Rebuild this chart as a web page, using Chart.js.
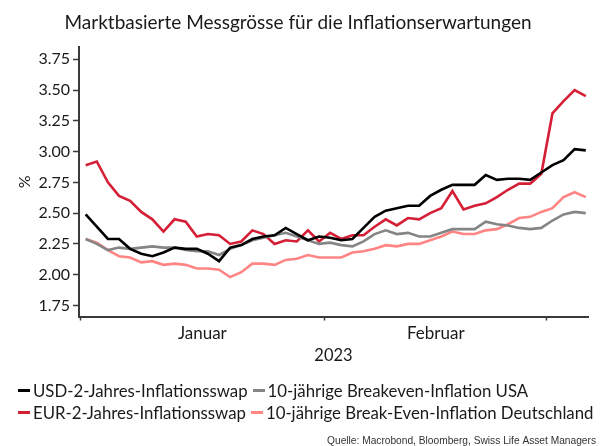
<!DOCTYPE html>
<html><head><meta charset="utf-8">
<script src="https://cdn.jsdelivr.net/npm/chart.js@4/dist/chart.umd.min.js"></script>
<style>
html,body{margin:0;padding:0;background:#fff;}
#wrap{position:relative;width:603px;height:446px;overflow:hidden;}
#legend{position:absolute;left:18px;top:379.5px;font-family:Lato,sans-serif;font-size:16.8px;color:#1a1a1a;line-height:22.3px;}
.row{white-space:nowrap;height:22.3px;display:flex;align-items:center;}
.item{display:inline-flex;align-items:center;margin-right:5px;white-space:nowrap;}
.mk{display:inline-block;width:12px;height:3px;margin-right:3px;}
</style></head><body>
<div id="wrap"><canvas id="c" width="603" height="446"></canvas><div id="legend"></div></div>
<script>
const chartTitle = 'Marktbasierte Messgrösse für die Inflationserwartungen';
const sourceText = 'Quelle: Macrobond, Bloomberg, Swiss Life Asset Managers';
const yearLabel = '2023';
const yAxisLabel = '%';
const monthNames = ['Januar', 'Februar', 'März'];
const yTicks = [1.75, 2.00, 2.25, 2.50, 2.75, 3.00, 3.25, 3.50, 3.75];

const dates = [
  '2023-01-02','2023-01-03','2023-01-04','2023-01-05','2023-01-06',
  '2023-01-09','2023-01-10','2023-01-11','2023-01-12','2023-01-13',
  '2023-01-16','2023-01-17','2023-01-18','2023-01-19','2023-01-20',
  '2023-01-23','2023-01-24','2023-01-25','2023-01-26','2023-01-27',
  '2023-01-30','2023-01-31',
  '2023-02-01','2023-02-02','2023-02-03',
  '2023-02-06','2023-02-07','2023-02-08','2023-02-09','2023-02-10',
  '2023-02-13','2023-02-14','2023-02-15','2023-02-16','2023-02-17',
  '2023-02-20','2023-02-21','2023-02-22','2023-02-23','2023-02-24',
  '2023-02-27','2023-02-28',
  '2023-03-01','2023-03-02','2023-03-03','2023-03-06'
];

const usdSwap2y = [2.49,2.39,2.29,2.29,2.21,2.17,2.15,2.18,2.22,2.21,2.21,2.17,2.11,2.22,2.24,2.29,2.31,2.32,2.38,2.33,2.28,2.31,
  2.30,2.28,2.29,2.38,2.47,2.52,2.54,2.56,2.56,2.64,2.69,2.73,2.73,2.73,2.81,2.77,2.78,2.78,2.77,2.83,
  2.89,2.93,3.02,3.01];
const usBreakeven10y = [2.29,2.25,2.20,2.22,2.21,2.22,2.23,2.22,2.22,2.20,2.19,2.19,2.16,2.21,2.24,2.28,2.30,2.32,2.34,2.31,2.28,2.25,
  2.26,2.24,2.23,2.27,2.33,2.36,2.33,2.34,2.31,2.31,2.34,2.37,2.37,2.37,2.43,2.41,2.40,2.38,2.37,2.38,
  2.44,2.49,2.51,2.50];
const eurSwap2y = [2.89,2.92,2.75,2.64,2.60,2.51,2.45,2.35,2.45,2.43,2.31,2.33,2.32,2.25,2.27,2.36,2.33,2.25,2.28,2.27,2.36,2.27,
  2.34,2.29,2.32,2.32,2.39,2.45,2.40,2.46,2.45,2.50,2.54,2.68,2.53,2.56,2.58,2.63,2.69,2.74,2.74,2.82,
  3.31,3.41,3.50,3.45];
const deBreakeven10y = [2.29,2.26,2.20,2.15,2.14,2.10,2.11,2.08,2.09,2.08,2.05,2.05,2.04,1.98,2.02,2.09,2.09,2.08,2.12,2.13,2.16,2.14,
  2.14,2.14,2.18,2.19,2.21,2.24,2.23,2.25,2.25,2.28,2.31,2.35,2.33,2.33,2.36,2.37,2.41,2.46,2.47,2.51,
  2.54,2.63,2.67,2.63];

const seriesNames = ['USD-2-Jahres-Inflationsswap', '10-jährige Breakeven-Inflation USA',
  'EUR-2-Jahres-Inflationsswap', '10-jährige Break-Even-Inflation Deutschland'];
const seriesValues = [usdSwap2y, usBreakeven10y, eurSwap2y, deBreakeven10y];
const seriesColors = ['#000000', '#858585', '#d51f37', '#ff8585'];

// month boundaries (business-day index) derived from the dates
const monthOf = d => +d.slice(5, 7);
const boundaries = [];
dates.forEach((d, i) => { if (i === 0 || monthOf(d) !== monthOf(dates[i - 1])) boundaries.push(i - 0.5); });
const monthLabelPos = [];
const monthLabelText = [];
for (let k = 0; k < boundaries.length - 1; k++) {
  monthLabelPos.push((boundaries[k] + boundaries[k + 1]) / 2);
  monthLabelText.push(monthNames[monthOf(dates[boundaries[k] + 0.5]) - 1]);
}

const font = 'Lato, "Open Sans", sans-serif';
const axisColor = '#3a3a3a';
const textColor = '#1a1a1a';

const datasets = seriesNames.map((name, s) => ({
  label: name,
  data: seriesValues[s].map((v, i) => ({ x: i, y: v })),
  borderColor: seriesColors[s],
  backgroundColor: seriesColors[s],
  borderWidth: 2.6,
  pointRadius: 0,
  tension: 0,
  fill: false,
  borderJoinStyle: 'miter',
  yAxisID: 'y'
}));

new Chart(document.getElementById('c'), {
  type: 'line',
  data: { datasets },
  options: {
    responsive: false,
    animation: false,
    devicePixelRatio: 1,
    layout: { padding: { left: 0, right: 7, top: 0, bottom: 0 } },
    plugins: {
      legend: { display: false },
      tooltip: { enabled: false },
      title: {
        display: true, text: chartTitle, color: textColor,
        font: { family: font, size: 19, weight: 'normal', lineHeight: 1.2 },
        padding: { top: 11, bottom: 13.2 }
      },
      subtitle: {
        display: true, position: 'bottom', align: 'end', text: sourceText, color: '#333',
        font: { family: '"Liberation Sans", Arial, sans-serif', size: 10.2, lineHeight: 0.88 },
        padding: { top: 66.5, bottom: 0 }
      }
    },
    scales: {
      x: {
        type: 'linear',
        min: -0.6,
        max: dates.length - 1 + 0.2,
        border: { color: axisColor, width: 2 },
        grid: {
          drawOnChartArea: false, tickLength: 4, tickWidth: 1.5,
          tickColor: c => (c.tick && monthLabelPos.includes(c.tick.value)) ? 'rgba(0,0,0,0)' : axisColor
        },
        afterBuildTicks: s => {
          s.ticks = boundaries.concat(monthLabelPos).sort((a, b) => a - b).map(v => ({ value: v }));
        },
        ticks: {
          autoSkip: false, maxRotation: 0, padding: 3, color: textColor,
          font: { family: font, size: 17 },
          callback: v => { const k = monthLabelPos.indexOf(v); return k >= 0 ? monthLabelText[k] : ''; }
        },
        title: {
          display: true, text: yearLabel, color: textColor,
          font: { family: font, size: 16.5 }, padding: { top: 4, bottom: 5 }
        },
        afterFit: s => { s.height = 54; }
      },
      y: {
        type: 'linear',
        position: 'left',
        min: 1.66,
        max: 3.85,
        border: { color: axisColor, width: 2 },
        grid: { drawOnChartArea: false, tickLength: 6, tickWidth: 1.5, tickColor: axisColor },
        afterBuildTicks: s => { s.ticks = yTicks.map(v => ({ value: v })); },
        ticks: {
          padding: 3, color: textColor,
          font: { family: font, size: 16 },
          callback: v => v.toFixed(2)
        },
        title: {
          display: true, text: yAxisLabel, color: textColor,
          font: { family: font, size: 16 }, padding: { top: 15, bottom: 0 }
        },
        afterFit: s => { s.width = 79; }
      },
      gap: {
        type: 'linear',
        position: 'right',
        display: true,
        grid: { display: false },
        border: { display: false },
        ticks: { display: false },
        afterFit: s => { s.width = 8; }
      }
    }
  }
});

// HTML legend built from the series arrays (two items per row)
const legend = document.getElementById('legend');
for (let r = 0; r < seriesNames.length; r += 2) {
  const row = document.createElement('div');
  row.className = 'row';
  for (let s = r; s < Math.min(r + 2, seriesNames.length); s++) {
    const item = document.createElement('span');
    item.className = 'item';
    const mk = document.createElement('span');
    mk.className = 'mk';
    mk.style.background = seriesColors[s];
    const tx = document.createElement('span');
    tx.textContent = seriesNames[s];
    item.appendChild(mk); item.appendChild(tx);
    row.appendChild(item);
  }
  legend.appendChild(row);
}
</script>
</body></html>
